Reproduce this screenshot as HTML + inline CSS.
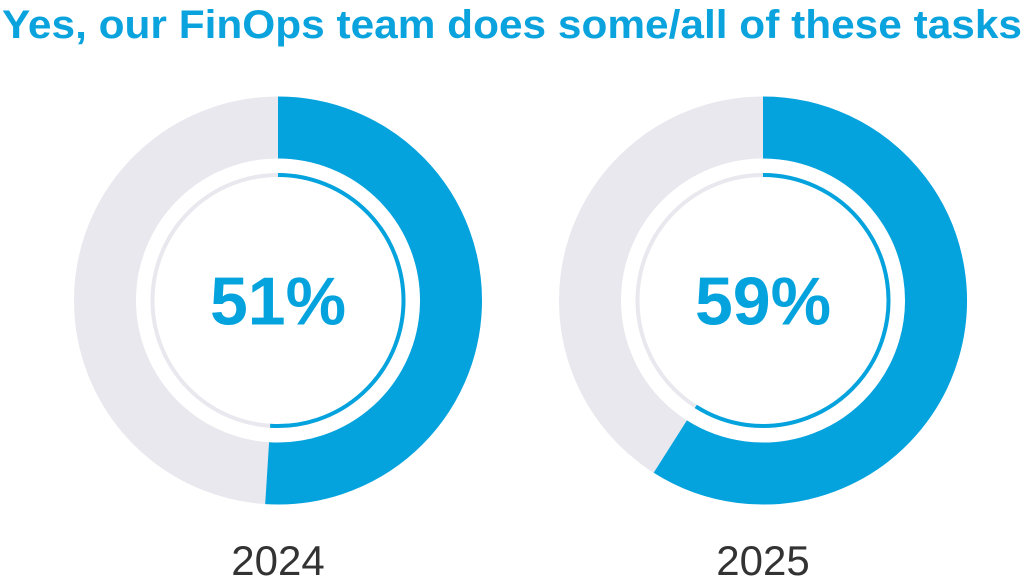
<!DOCTYPE html>
<html><head><meta charset="utf-8"><style>
html,body{margin:0;padding:0;background:#fff;width:1024px;height:577px;overflow:hidden}
svg{display:block}
</style></head><body>
<svg id="chart" width="1024" height="577">
<text x="512" y="38" text-anchor="middle" textLength="1020" lengthAdjust="spacingAndGlyphs" font-family="Liberation Sans, sans-serif" font-weight="bold" font-size="40" fill="#0aa3dd">Yes, our FinOps team does some/all of these tasks</text>
</svg>
<script>
const years = ["2024","2025"];
const values = [51, 59];
const labels = ["51%","59%"];
const svg = document.getElementById('chart');
const NS = 'http://www.w3.org/2000/svg';
const centersX = [278, 763];
const cy = 300.5;
function pt(cx, r, pct){const a = pct/100*2*Math.PI - Math.PI/2;return [cx + r*Math.cos(a), cy + r*Math.sin(a)];}
function arc(cx, r, p0, p1){
  const s = pt(cx,r,p0), e = pt(cx,r,p1);
  const large = (p1-p0) > 50 ? 1 : 0;
  return `M${s[0]},${s[1]} A${r},${r} 0 ${large} 1 ${e[0]},${e[1]}`;
}
function mk(tag, attrs){const el=document.createElementNS(NS,tag);for(const k in attrs)el.setAttribute(k,attrs[k]);svg.appendChild(el);return el;}
years.forEach((y,i)=>{
  const cx = centersX[i], v = values[i];
  let el = mk('circle',{cx:cx,cy:cy,r:173,fill:'none',stroke:'#e8e8ee','stroke-width':62});
  
  
  el = mk('path',{d:arc(cx,173,0,v),fill:'none',stroke:'#04a3de','stroke-width':62});
  
  
  el = mk('circle',{cx:cx,cy:cy,r:125.5,fill:'none',stroke:'#e8e8ee','stroke-width':4});
  
  
  el = mk('path',{d:arc(cx,125.5,0,v),fill:'none',stroke:'#04a3de','stroke-width':4});
  
  
  el = mk('text',{x:cx,y:cy+24,'text-anchor':'middle','font-family':'Liberation Sans, sans-serif','font-weight':'bold','font-size':68,fill:'#04a3de'});
  el.textContent = labels[i];
  
  
  el = mk('text',{x:cx,y:575,'text-anchor':'middle','font-family':'Liberation Sans, sans-serif','font-size':42,fill:'#333'});
  el.textContent = y;
  
  
});
</script>
</body></html>
